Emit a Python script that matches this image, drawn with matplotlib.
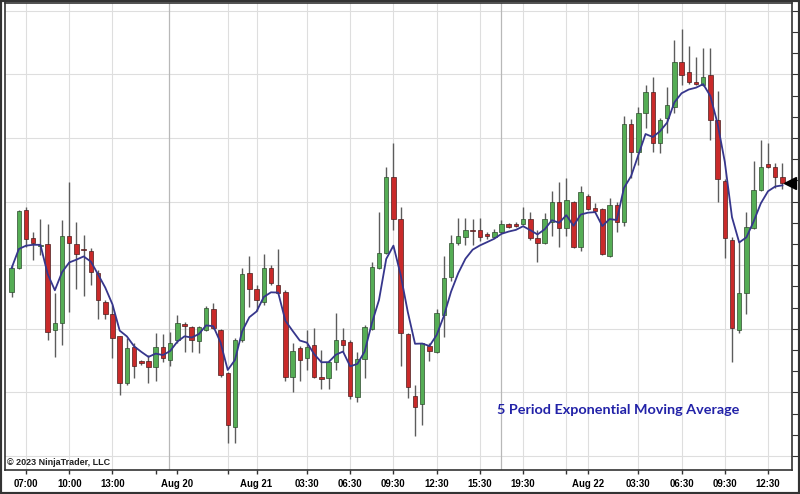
import numpy as np
import pandas as pd
import matplotlib
matplotlib.use("Agg")
import matplotlib.pyplot as plt
from matplotlib.patches import Rectangle

# ---- data (30-minute bars, price in chart units) ----
open_ = [708, 732, 790, 762, 754, 756, 670, 677, 764, 756, 751, 749, 727, 698, 686, 664, 617, 653, 639, 639,
         633, 653, 640, 660, 675, 673, 659, 670, 691, 670, 627, 573, 660, 727, 711, 698, 732, 715, 708, 623,
         652, 642, 655, 622, 622, 638, 660, 658, 603, 641, 671, 732, 747, 823, 781, 666, 604, 596, 654, 648,
         685, 723, 757, 763, 770, 770, 765, 763, 768, 776, 776, 776, 781, 762, 757, 778, 798, 772, 798, 753,
         804, 792, 791, 744, 795, 778, 876, 848, 887, 908, 857, 882, 893, 938, 928, 918, 915, 925, 880, 819,
         760, 670, 707, 772, 810, 836, 833, 823]
high = [735, 790, 793, 768, 781, 776, 707, 780, 818, 778, 765, 752, 730, 700, 695, 664, 662, 657, 640, 645,
        667, 666, 668, 685, 678, 674, 674, 694, 697, 671, 628, 662, 732, 744, 715, 746, 735, 751, 710, 657,
        654, 670, 672, 650, 640, 687, 672, 660, 648, 675, 738, 788, 833, 857, 793, 667, 615, 657, 657, 691,
        744, 765, 782, 782, 781, 782, 768, 771, 780, 777, 777.5, 793, 788, 770, 787, 809, 818, 822, 799, 814,
        806, 797, 792, 802, 798, 884, 881, 893, 915, 923, 882, 913, 960, 971, 954, 943, 952, 952, 909, 821,
        763, 759, 788, 839, 860, 857, 837, 837]
low = [703, 731, 753, 740, 745, 660, 643, 655, 688, 711, 704, 715, 681, 681, 642, 605, 615, 622, 635, 617,
       619, 638, 634, 657, 648, 648, 647, 669, 671, 623, 557, 557, 658, 693, 689, 695, 715, 706, 619, 608,
       619, 630, 622, 611, 611, 630, 648, 601, 598, 622, 670, 731, 746, 770, 634, 602, 564, 575, 639, 647,
       663, 719, 755, 755, 755, 759, 761, 762, 767, 772, 772.5, 775, 760, 738, 756, 764, 753, 764, 752, 749,
       790, 788, 745, 743, 768, 774, 822, 835, 872, 848, 847, 867, 887, 915, 916, 915, 914, 860, 798, 742,
       638, 667, 686, 771, 809, 832, 812, 811]
close = [732, 789, 761, 757, 755, 668, 677, 764, 757, 746, 750, 728, 700, 686, 662, 617, 652, 634, 637, 633,
         653, 642, 657, 677, 674.5, 660, 673, 692, 672, 625, 575, 660, 726, 711, 700, 732, 717, 707, 623, 649,
         640, 653, 623, 621.5, 638, 660, 655, 604, 641, 673, 733, 747, 823, 781, 667, 613, 593, 657, 649, 687,
         722, 757, 764, 770, 768.5, 763, 764.5, 768, 776, 773, 773.5, 781, 762, 757, 781, 798, 772, 800, 753, 808,
         791, 789, 746, 795, 778, 876, 848, 887, 908, 857, 880, 895, 938, 925, 918, 916, 923, 880, 821, 762,
         672, 707, 773, 810, 833, 833, 823, 817]

tick_pos = [2, 8, 14, 20, 23, 30, 34, 41, 47, 53, 59, 65, 71, 77, 80, 87, 93, 99, 105]
tick_labels = ["07:00", "10:00", "13:00", "", "Aug 20", "", "Aug 21", "03:30", "06:30", "09:30",
               "12:30", "15:30", "19:30", "", "Aug 22", "03:30", "06:30", "09:30", "12:30"]

ema_period = 5
title_text = "5 Period Exponential Moving Average"
copyright_text = "\u00a9 2023 NinjaTrader, LLC"

# ---- figure ----
o = np.array(open_, float)
h = np.array(high, float)
l = np.array(low, float)
c = np.array(close, float)
x = np.arange(len(o))
ema = pd.Series(c).ewm(span=ema_period, adjust=False).mean()

fig = plt.figure(figsize=(8, 4.94), dpi=100)
fig.patch.set_facecolor("white")
ax = fig.add_axes([5 / 800, 24 / 494, 787 / 800, 467 / 494])
ax.set_xlim(-0.92, 108.33)
ax.set_ylim(530, 997)

# grid
for k in range(8):
    ax.axhline(544 + 63.6 * k, color="#dedede", lw=0.8, zorder=0)
for p in tick_pos:
    if p in (20, 23):
        continue
    ax.axvline(p, color="#dedede", lw=0.8, zorder=0)
for p in (21.85, 68):
    ax.axvline(p, color="#b8b8b8", lw=0.9, zorder=0)

# candles
up = c >= o
ax.vlines(x, l, h, color="#5c5c5c", lw=1.0, zorder=2)
bottom = np.minimum(o, c)
height = np.maximum(np.abs(c - o), 1.3)
ax.bar(x[up], height[up], bottom=bottom[up], width=0.62, color="#55ad55",
       edgecolor="#2d4a2d", linewidth=0.5, zorder=3)
ax.bar(x[~up], height[~up], bottom=bottom[~up], width=0.62, color="#c92a2a",
       edgecolor="#4a1e1e", linewidth=0.5, zorder=3)

# EMA
ax.plot(x, ema, color="#36368c", lw=1.3, zorder=4)

# last price marker
ax.plot([108.1], [c[-1]], marker="<", markersize=9, color="black", clip_on=False, zorder=6)

# axes styling
for s in ("left", "right", "bottom", "top"):
    ax.spines[s].set_color("#333333")
    ax.spines[s].set_linewidth(1.2)
ax.set_xticks(tick_pos)
ax.set_xticklabels(tick_labels)
ax.tick_params(axis="x", length=3, width=1, color="#333333", pad=3.5, labelsize=6.9)
for lbl in ax.get_xticklabels():
    lbl.set_fontweight("bold")
    lbl.set_family(["Liberation Sans", "DejaVu Sans"])
ax.yaxis.tick_right()
ax.set_yticks([544 + 21.2 * k for k in range(-1, 23) if 530 <= 544 + 21.2 * k <= 997])
ax.tick_params(axis="y", length=4, width=0.8, color="#333333", labelright=False, labelleft=False)

# texts
t = ax.text(0.625, 0.128, title_text, transform=ax.transAxes, fontsize=11, fontweight="bold",
            color="#2222a8", family=["Lato", "DejaVu Sans"], va="center", ha="left")
fig.canvas.draw()
w = t.get_window_extent().width
t.set_fontsize(11 * 243 / w)

fig.text(7 / 800, 1 - 462 / 494, copyright_text, fontsize=6.5, fontweight="bold",
         color="#222222", family=["Liberation Sans", "DejaVu Sans"], va="center", ha="left")

# outer frame
fig.patches.append(Rectangle((0, 0), 1, 1, transform=fig.transFigure, fill=False,
                             edgecolor="#333333", lw=3, zorder=10))

fig.savefig("out.png", dpi=100)
